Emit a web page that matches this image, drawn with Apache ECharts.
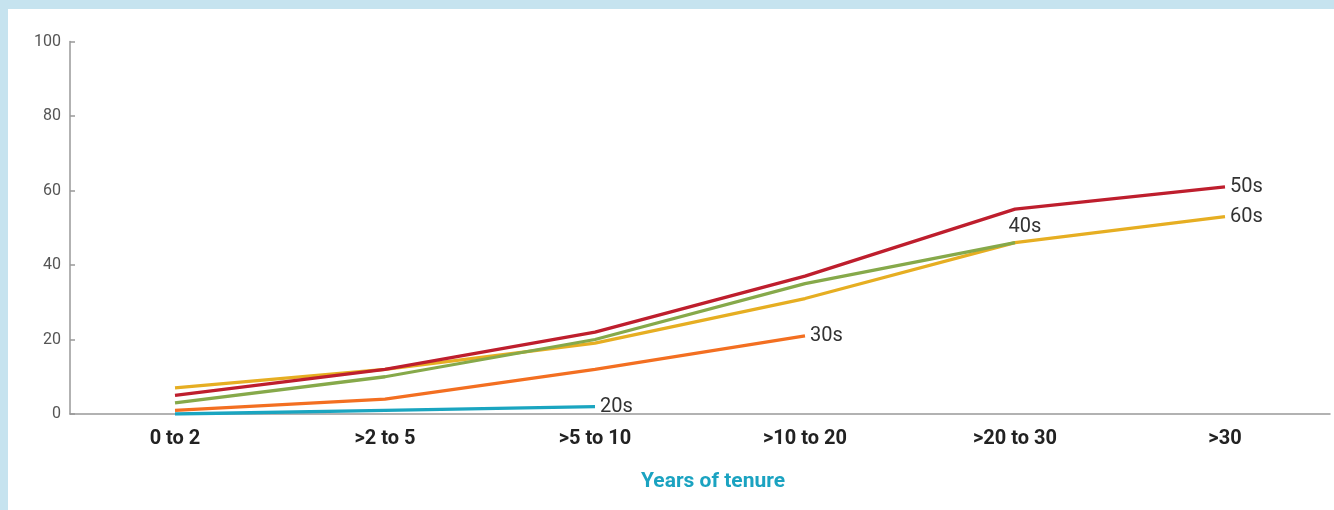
<!DOCTYPE html>
<html>
<head>
<meta charset="utf-8">
<script src="https://cdn.jsdelivr.net/npm/echarts@6/dist/echarts.min.js"></script>
<style>
  html, body { margin: 0; padding: 0; background: #fff; }
  #wrap { position: relative; width: 1334px; height: 510px; overflow: hidden; }
  #chart { position: absolute; left: 0; top: 0; width: 1334px; height: 510px; }
  .band { position: absolute; background: #c6e3ef; }
</style>
</head>
<body>
<div id="wrap">
  <div id="chart"></div>
  <div class="band" style="left:0;top:0;width:1334px;height:9px;"></div>
  <div class="band" style="left:0;top:0;width:8px;height:510px;"></div>
</div>
<script>
const categories = ['0 to 2', '>2 to 5', '>5 to 10', '>10 to 20', '>20 to 30', '>30'];
const yTicks = [0, 20, 40, 60, 80, 100];
const s20s = [0, 1, 2, null, null, null];
const s30s = [1, 4, 12, 21, null, null];
const s40s = [3, 10, 20, 35, 46, null];
const s50s = [5, 12, 22, 37, 55, 61];
const s60s = [7, 12, 19, 31, 46, 53];

const fontFam = '"Roboto", "Noto Sans", sans-serif';
const labelStyle = { color: '#333', fontSize: 20, fontFamily: fontFam };

function mkSeries(name, data, color, z, useEnd) {
  const s = {
    name: name, type: 'line', data: data, z: z,
    showSymbol: false, symbol: 'none',
    lineStyle: { color: color, width: 3.3 },
    itemStyle: { color: color },
    connectNulls: false,
    emphasis: { disabled: true },
    animation: false
  };
  if (useEnd) {
    s.endLabel = Object.assign({ show: true, formatter: name, distance: 5 }, labelStyle);
  }
  return s;
}

const chart = echarts.init(document.getElementById('chart'));
const s40 = mkSeries('40s', s40s.map((v, i) => i === 4 ? {
  value: v,
  label: Object.assign({ show: true, position: 'top', distance: 6, formatter: '40s', offset: [10, 0] }, labelStyle)
} : v), '#86a94a', 3, false);
s40.showSymbol = true;
s40.symbol = 'circle';
s40.symbolSize = 0.01;
s40.label = { show: false };

chart.setOption({
  animation: false,
  grid: { left: 70, right: 4, top: 41.5, bottom: 96, containLabel: false },
  xAxis: {
    type: 'category',
    data: categories,
    boundaryGap: true,
    axisLine: { lineStyle: { color: '#999', width: 1.5 } },
    axisTick: { show: false },
    axisLabel: { color: '#222', fontSize: 20, fontWeight: 'bold', fontFamily: fontFam, margin: 15 },
    name: 'Years of tenure',
    nameLocation: 'middle',
    nameGap: 57,
    nameTextStyle: { color: '#1ba3c1', fontSize: 21, fontWeight: 'bold', fontFamily: fontFam, padding: [0, 0, 0, 26] }
  },
  yAxis: {
    type: 'value',
    min: yTicks[0], max: yTicks[yTicks.length - 1], interval: 20,
    splitLine: { show: false },
    axisLine: { show: true, lineStyle: { color: '#999', width: 1.5 } },
    axisTick: { show: true, inside: true, length: 5, lineStyle: { color: '#999', width: 1.5 } },
    axisLabel: { color: '#555', fontSize: 16, fontFamily: fontFam, margin: 9 }
  },
  series: [
    mkSeries('60s', s60s, '#e6ae22', 2, true),
    s40,
    mkSeries('50s', s50s, '#be1e2d', 4, true),
    mkSeries('30s', s30s, '#f36f21', 5, true),
    mkSeries('20s', s20s, '#1aa5c0', 6, true)
  ]
});
</script>
</body>
</html>
